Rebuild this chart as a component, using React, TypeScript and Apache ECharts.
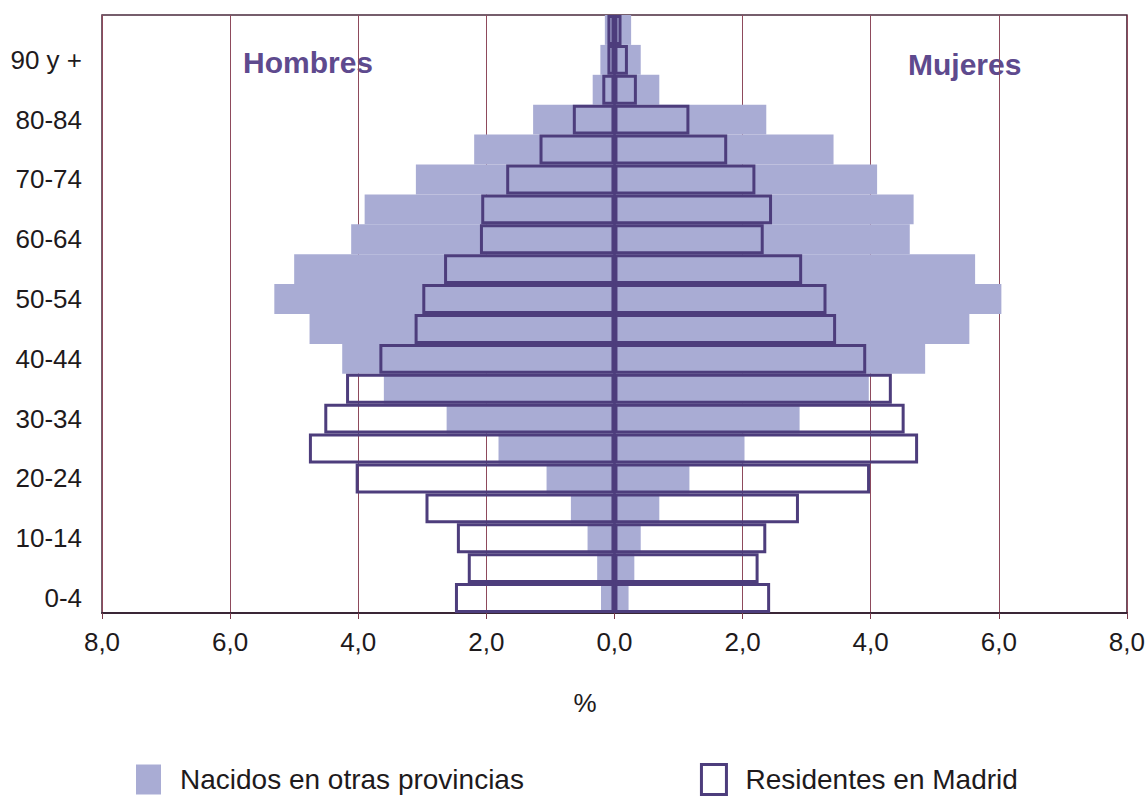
import React, { useEffect, useRef } from "react";
import * as echarts from "echarts";

const ages = ["0-4", "5-9", "10-14", "15-19", "20-24", "25-29", "30-34", "35-39", "40-44", "45-49",
  "50-54", "55-59", "60-64", "65-69", "70-74", "75-79", "80-84", "85-89", "90 y +", "95 y +"];

const hombresNacidos = [0.21, 0.27, 0.42, 0.68, 1.06, 1.81, 2.62, 3.60, 4.25, 4.76, 5.31, 5.00, 4.11, 3.90, 3.10, 2.19, 1.27, 0.34, 0.22, 0.15];
const hombresResidentes = [2.49, 2.29, 2.46, 2.95, 4.04, 4.77, 4.53, 4.19, 3.67, 3.12, 3.00, 2.66, 2.10, 2.08, 1.69, 1.17, 0.65, 0.19, 0.11, 0.11];
const mujeresNacidos = [0.22, 0.31, 0.41, 0.70, 1.17, 2.03, 2.89, 3.97, 4.85, 5.54, 6.04, 5.63, 4.61, 4.67, 4.10, 3.42, 2.37, 0.70, 0.41, 0.26];
const mujeresResidentes = [2.43, 2.25, 2.37, 2.88, 3.99, 4.74, 4.53, 4.33, 3.93, 3.46, 3.31, 2.93, 2.33, 2.46, 2.20, 1.76, 1.17, 0.35, 0.21, 0.11];

const NACIDOS = "Nacidos en otras provincias";
const RESIDENTES = "Residentes en Madrid";

const FONT = '"Liberation Sans", Arial, Helvetica, sans-serif';
const FILL = "#a9acd4";
const OUTLINE = "#4d3d7c";
const TEXT = "#1e1a1c";
const PURPLE = "#5e4a8e";

export default function App() {
  const ref = useRef<HTMLDivElement>(null);

  useEffect(() => {
    if (!ref.current) return;
    const chart = echarts.init(ref.current, null, { renderer: "svg" });

    const fillBar = (name: string, data: number[]) => ({
      name,
      type: "bar",
      data,
      barWidth: "100%",
      barGap: "-100%",
      barCategoryGap: "0%",
      itemStyle: { color: FILL, borderWidth: 0 },
    });
    const outlineBar = (name: string, data: number[], withLine: boolean) => ({
      name,
      type: "bar",
      data,
      barWidth: "100%",
      barGap: "-100%",
      barCategoryGap: "0%",
      itemStyle: { color: "rgba(0,0,0,0)", borderColor: OUTLINE, borderWidth: 3 },
      markLine: withLine
        ? {
            silent: true,
            symbol: ["none", "none"],
            label: { show: false },
            lineStyle: { color: OUTLINE, width: 2.5, type: "solid" },
            data: [{ xAxis: 0 }],
          }
        : undefined,
    });

    chart.setOption({
      animation: false,
      backgroundColor: "#ffffff",
      textStyle: { fontFamily: FONT },
      grid: {
        left: 102,
        right: 17,
        top: 15,
        bottom: 184,
        show: true,
        borderColor: "#4a2a3c",
        borderWidth: 1.5,
        backgroundColor: "transparent",
      },
      legend: {
        left: 136,
        top: 763,
        padding: 0,
        itemWidth: 25,
        itemHeight: 30,
        itemGap: 176,
        selectedMode: false,
        textStyle: { fontSize: 28, color: TEXT, fontFamily: FONT, padding: [0, 0, 0, 14] },
        data: [
          { name: NACIDOS, icon: "rect", itemStyle: { color: FILL, borderWidth: 0 } },
          {
            name: RESIDENTES,
            icon: "rect",
            itemStyle: { color: "#ffffff", borderColor: OUTLINE, borderWidth: 3 },
          },
        ],
      },
      xAxis: {
        type: "value",
        min: -8,
        max: 8,
        interval: 2,
        axisLine: { show: true, onZero: false, lineStyle: { color: "#3a2636", width: 2 } },
        axisTick: { show: true, length: 6, lineStyle: { color: "#7a3a4a", width: 1 } },
        splitLine: { show: true, lineStyle: { color: "#8e4a5c", width: 1 } },
        axisLabel: {
          fontSize: 26,
          color: TEXT,
          margin: 16,
          fontFamily: FONT,
          formatter: (v: number) => Math.abs(v).toFixed(1).replace(".", ","),
        },
      },
      yAxis: {
        type: "category",
        data: ages,
        axisLine: { show: false, onZero: false },
        axisTick: { show: false },
        splitLine: { show: false },
        axisLabel: { interval: 1, fontSize: 26, color: TEXT, margin: 20, fontFamily: FONT },
      },
      graphic: [
        {
          type: "text",
          x: 243,
          y: 62,
          style: { text: "Hombres", font: `bold 30px ${FONT}`, fill: PURPLE, align: "left", verticalAlign: "middle" },
        },
        {
          type: "text",
          x: 908,
          y: 64,
          style: { text: "Mujeres", font: `bold 30px ${FONT}`, fill: PURPLE, align: "left", verticalAlign: "middle" },
        },
        {
          type: "text",
          x: 585,
          y: 703,
          style: { text: "%", font: `26px ${FONT}`, fill: TEXT, align: "center", verticalAlign: "middle" },
        },
      ],
      series: [
        fillBar(NACIDOS, hombresNacidos.map((v) => -v)),
        fillBar(NACIDOS, mujeresNacidos),
        outlineBar(RESIDENTES, hombresResidentes.map((v) => -v), false),
        outlineBar(RESIDENTES, mujeresResidentes, true),
      ],
    });

    return () => chart.dispose();
  }, []);

  return (
    <div
      ref={ref}
      style={{ position: "fixed", left: 0, top: 0, width: 1148, height: 797, background: "#fff" }}
    />
  );
}
